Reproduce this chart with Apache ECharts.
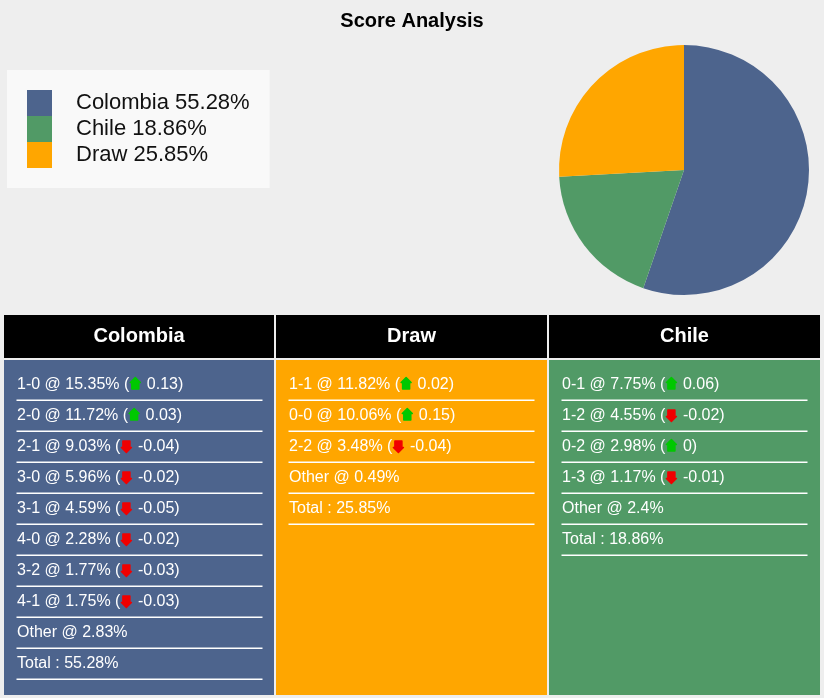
<!DOCTYPE html>
<html><head><meta charset="utf-8">
<style>html,body{margin:0;padding:0;background:#eeeeee}#c{width:824px;height:698px}</style>
<script src="https://cdn.jsdelivr.net/npm/echarts@6/dist/echarts.min.js"></script>
</head><body><div id="c"></div>
<script>
const outcomes = ['Colombia', 'Chile', 'Draw'];
const shares = [55.28, 18.86, 25.85];
const colors = ['#4d648d', '#519a66', '#ffa600'];
const panelNames = ['Colombia', 'Draw', 'Chile'];
const colombiaScores = ['1-0', '2-0', '2-1', '3-0', '3-1', '4-0', '3-2', '4-1'];
const colombiaProbs = [15.35, 11.72, 9.03, 5.96, 4.59, 2.28, 1.77, 1.75];
const colombiaMoves = ['0.13', '0.03', '-0.04', '-0.02', '-0.05', '-0.02', '-0.03', '-0.03'];
const colombiaOther = 2.83;
const drawScores = ['1-1', '0-0', '2-2'];
const drawProbs = [11.82, 10.06, 3.48];
const drawMoves = ['0.02', '0.15', '-0.04'];
const drawOther = 0.49;
const chileScores = ['0-1', '1-2', '0-2', '1-3'];
const chileProbs = [7.75, 4.55, 2.98, 1.17];
const chileMoves = ['0.06', '-0.02', '0', '-0.01'];
const chileOther = 2.4;

const FONT = '"Liberation Sans", Arial, sans-serif';
const measure = document.createElement('canvas').getContext('2d');
measure.font = '16px "Liberation Sans"';
const panels = [
  {name: panelNames[0], color: colors[0], x: 4, w: 270, scores: colombiaScores, probs: colombiaProbs, moves: colombiaMoves, other: colombiaOther, total: shares[0]},
  {name: panelNames[1], color: colors[2], x: 276, w: 271, scores: drawScores, probs: drawProbs, moves: drawMoves, other: drawOther, total: shares[2]},
  {name: panelNames[2], color: colors[1], x: 549, w: 271, scores: chileScores, probs: chileProbs, moves: chileMoves, other: chileOther, total: shares[1]}
];
const graphic = [];
const label = (text, x, y) => ({type: 'text', silent: true, x: x, y: y, style: {text: text, fill: '#fff', font: '16px ' + FONT, align: 'left', verticalAlign: 'middle'}});
// Small soft block arrow, built around its centre; dir is -1 for up, +1 for down.
const arrow = (cx, cy, dir, fill) => ({type: 'polygon', silent: true, shape: {points: [
  [cx, cy + dir * 6.5], [cx + 5, cy + dir * 1.5], [cx + 3.5, cy + dir * 1.5], [cx + 3.5, cy - dir * 5],
  [cx - 3.5, cy - dir * 5], [cx - 3.5, cy + dir * 1.5], [cx - 5, cy + dir * 1.5]
]}, style: {fill: fill, stroke: fill, lineWidth: 1.5, lineJoin: 'round'}});
panels.forEach(p => {
  graphic.push({type: 'rect', silent: true, shape: {x: p.x, y: 315, width: p.w, height: 43}, style: {fill: '#000'}});
  graphic.push({type: 'rect', silent: true, shape: {x: p.x, y: 360, width: p.w, height: 335}, style: {fill: p.color}});
  graphic.push({type: 'text', silent: true, x: p.x + p.w / 2, y: 336, style: {text: p.name, fill: '#fff', font: 'bold 20px ' + FONT, align: 'center', verticalAlign: 'middle'}});
  const tx = p.x + 13;
  const yOf = i => 385 + 31 * i;
  const rule = i => ({type: 'rect', silent: true, shape: {x: p.x + 12.5, y: 384 + 31 * i + 15.5, width: 246, height: 1.5}, style: {fill: '#fff'}});
  p.scores.forEach((s, i) => {
    const prefix = s + ' @ ' + p.probs[i] + '% (';
    const w = measure.measureText(prefix).width;
    const up = p.moves[i].charAt(0) !== '-';
    graphic.push(label(prefix, tx, yOf(i)));
    graphic.push(arrow(tx + w + 6, yOf(i) - 1, up ? -1 : 1, up ? '#00c800' : '#f00000'));
    graphic.push(label(p.moves[i] + ')', tx + w + 17.5, yOf(i)));
    graphic.push(rule(i));
  });
  const n = p.scores.length;
  graphic.push(label('Other @ ' + p.other + '%', tx, yOf(n)));
  graphic.push(rule(n));
  graphic.push(label('Total : ' + p.total + '%', tx, yOf(n + 1)));
  graphic.push(rule(n + 1));
});

const chart = echarts.init(document.getElementById('c'), null, {renderer: 'canvas'});
chart.setOption({
  animation: false,
  backgroundColor: '#eeeeee',
  color: colors,
  title: {text: 'Score Analysis', left: 407, top: 6, textAlign: 'center', textStyle: {fontFamily: FONT, fontSize: 20, fontWeight: 'bold', color: '#000'}},
  legend: {
    orient: 'vertical', left: 7, top: 70, padding: [20, 20, 20, 20], itemGap: 0, itemWidth: 25, itemHeight: 26,
    backgroundColor: '#f9f9f9', icon: 'rect', selectedMode: false,
    formatter: n => n + ' ' + shares[outcomes.indexOf(n)] + '%',
    textStyle: {fontFamily: FONT, fontSize: 22, color: '#111', padding: [0, 0, 0, 19]},
    data: outcomes
  },
  series: [{
    type: 'pie', center: [684, 170], radius: [0, 125], startAngle: 90, clockwise: true, silent: true,
    label: {show: false}, labelLine: {show: false},
    data: outcomes.map((n, i) => ({name: n, value: shares[i]}))
  }],
  graphic: graphic
});
</script></body></html>
